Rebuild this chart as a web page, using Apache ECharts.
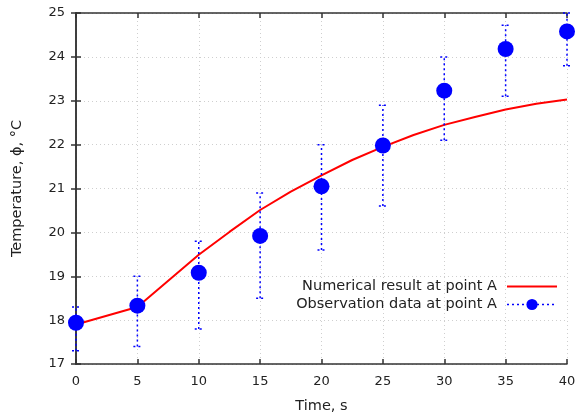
<!DOCTYPE html>
<html>
<head>
<meta charset="utf-8">
<script src="https://cdn.jsdelivr.net/npm/echarts@6/dist/echarts.min.js"></script>
<style>html,body{margin:0;padding:0;background:#fff}#c{width:579px;height:419px}</style>
</head>
<body>
<div id="c"></div>
<script>
// Numerical result (red curve)
const numTime = [0, 5, 10, 12.5, 15, 17.5, 20, 22.5, 25, 27.5, 30, 32.5, 35, 37.5, 40];
const numTemp = [17.9, 18.3, 19.49, 20.01, 20.51, 20.93, 21.3, 21.65, 21.95, 22.22, 22.45, 22.63, 22.8, 22.93, 23.03];
// Observation data (blue points with error bars)
const obsTime = [0, 5, 10, 15, 20, 25, 30, 35, 40];
const obsTemp = [17.94, 18.33, 19.08, 19.92, 21.05, 21.98, 23.23, 24.18, 24.58];
const obsLow  = [17.3, 17.4, 17.8, 18.5, 19.6, 20.6, 22.1, 23.1, 23.8];
const obsHigh = [18.3, 19.0, 19.8, 20.9, 22.0, 22.9, 24.0, 24.72, 25.0];

const FONT = 'DejaVu Sans';
const TXT = '#222';
const chart = echarts.init(document.getElementById('c'));

const gridLine = {show: true, lineStyle: {color: '#cfcfcf', type: [1, 3], width: 1}};
const axLine = {show: true, lineStyle: {color: '#333', width: 1.5}};
const ticks = {show: true, inside: true, length: 5, lineStyle: {color: '#333', width: 1.5}};

chart.setOption({
  animation: false,
  grid: {left: 76, right: 12, top: 13, bottom: 55},
  xAxis: [{
    type: 'value', min: 0, max: 40, interval: 5,
    axisLine: axLine, axisTick: ticks, splitLine: gridLine,
    axisLabel: {color: TXT, fontFamily: FONT, fontSize: 13, margin: 11},
    name: 'Time, s', nameLocation: 'middle', nameGap: 35,
    nameTextStyle: {color: TXT, fontFamily: FONT, fontSize: 14.5}
  }, {
    type: 'value', min: 0, max: 40, interval: 5, position: 'top',
    axisLine: axLine, axisTick: ticks, splitLine: {show: false}, axisLabel: {show: false}
  }],
  yAxis: [{
    type: 'value', min: 17, max: 25, interval: 1,
    axisLine: axLine, axisTick: ticks, splitLine: gridLine,
    axisLabel: {color: TXT, fontFamily: FONT, fontSize: 13, margin: 11},
    name: 'Temperature, \u03d5, \u00b0C', nameLocation: 'middle', nameGap: 51,
    nameTextStyle: {color: TXT, fontFamily: FONT, fontSize: 14.5}
  }, {
    type: 'value', min: 17, max: 25, interval: 1, position: 'right',
    axisLine: axLine, axisTick: ticks, splitLine: {show: false}, axisLabel: {show: false}
  }],
  legend: {
    orient: 'vertical', right: 16, top: 274, align: 'right',
    itemWidth: 50, itemHeight: 14, itemGap: 3,
    textStyle: {color: TXT, fontFamily: FONT, fontSize: 14.5, padding: [0, 5, 0, 0]},
    data: [
      {name: 'Numerical result at point A', itemStyle: {opacity: 0}, lineStyle: {opacity: 1, color: '#ff0000', width: 2}},
      {name: 'Observation data at point A', lineStyle: {opacity: 1, type: [2, 3], width: 1.5, color: '#0000ff'}}
    ]
  },
  series: [
    {
      name: 'Numerical result at point A', type: 'line', smooth: false,
      data: numTime.map((t, i) => [t, numTemp[i]]),
      showSymbol: false, symbol: 'none',
      lineStyle: {color: '#ff0000', width: 2}, itemStyle: {color: '#ff0000'}, z: 2
    },
    {
      name: 'errbars', type: 'custom',
      data: obsTime.map((t, i) => [t, obsLow[i], obsHigh[i]]),
      renderItem: function (params, api) {
        const t = api.value(0);
        const lo = api.coord([t, api.value(1)]);
        const hi = api.coord([t, api.value(2)]);
        const st = {stroke: '#0000ff', lineWidth: 1.5, lineDash: [2, 3]};
        const cw = 4;
        return {type: 'group', children: [
          {type: 'line', shape: {x1: lo[0], y1: lo[1], x2: hi[0], y2: hi[1]}, style: st},
          {type: 'line', shape: {x1: lo[0] - cw, y1: lo[1], x2: lo[0] + cw, y2: lo[1]}, style: st},
          {type: 'line', shape: {x1: hi[0] - cw, y1: hi[1], x2: hi[0] + cw, y2: hi[1]}, style: st}
        ]};
      },
      z: 3, silent: true
    },
    {
      name: 'Observation data at point A', type: 'line',
      data: obsTime.map((t, i) => [t, obsTemp[i]]),
      symbol: 'circle', symbolSize: 16, showSymbol: true,
      lineStyle: {opacity: 0, width: 0},
      itemStyle: {color: '#0000ff'}, z: 4
    }
  ]
});
</script>
</body>
</html>
